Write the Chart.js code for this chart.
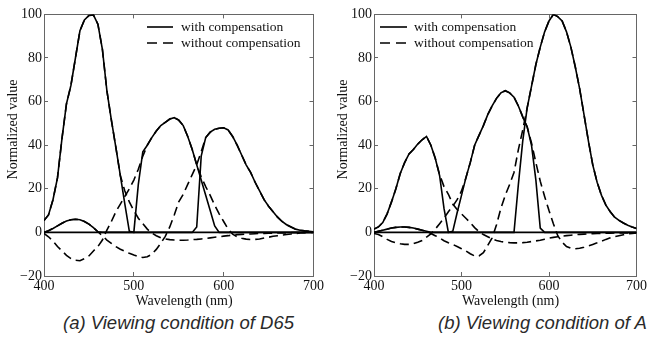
<!DOCTYPE html>
<html lang="en">

<head>
    <meta charset="UTF-8">
    <title>Normalized value vs wavelength</title>
    <script src="https://cdn.jsdelivr.net/npm/chart.js"></script>
    <style>
        body { margin: 0; width: 653px; height: 338px; position: relative; background: #fff; overflow: hidden; }
        .box { position: absolute; top: 0; height: 310px; }
        .legend { position: absolute; font: 13.5px "Liberation Serif", serif; color: #111; }
        .legend .row { height: 16px; line-height: 16px; display: flex; align-items: center; white-space: nowrap; }
        .legend svg { display: block; margin-right: 7px; }
        .caption { position: absolute; top: 312px; font: italic 18.5px "Liberation Sans", Arial, sans-serif; color: #2a2a2a; white-space: nowrap; line-height: 22px; }
    </style>
</head>

<body>
    <div class="box" style="left:0; width:330px;"><canvas id="chartA"></canvas></div>
    <div class="box" style="left:330px; width:323px;"><canvas id="chartB"></canvas></div>

    <div class="legend" style="left:147px; top:19px;">
        <div class="row"><svg width="27" height="16"><line x1="0" y1="8" x2="26" y2="8" stroke="#000" stroke-width="1.6" /></svg><span>with compensation</span></div>
        <div class="row"><svg width="27" height="16"><line x1="0" y1="8" x2="26" y2="8" stroke="#000" stroke-width="1.6" stroke-dasharray="10 6" /></svg><span>without compensation</span></div>
    </div>
    <div class="legend" style="left:380px; top:19px;">
        <div class="row"><svg width="27" height="16"><line x1="0" y1="8" x2="27" y2="8" stroke="#000" stroke-width="1.6" /></svg><span>with compensation</span></div>
        <div class="row"><svg width="27" height="16"><line x1="0" y1="8" x2="27" y2="8" stroke="#000" stroke-width="1.6" stroke-dasharray="10 6" /></svg><span>without compensation</span></div>
    </div>

    <div class="caption" style="left:63px;">(a) Viewing condition of D65</div>
    <div class="caption" style="left:438px;">(b) Viewing condition of A</div>

    <script>
        // wavelength grid (nm)
        const wavelengths = [400, 405, 410, 415, 420, 425, 430, 435, 440, 445,
            450, 455, 460, 465, 470, 475, 480, 485, 490, 495,
            500, 505, 510, 515, 520, 525, 530, 535, 540, 545,
            550, 555, 560, 565, 570, 575, 580, 585, 590, 595,
            600, 605, 610, 615, 620, 625, 630, 635, 640, 645,
            650, 655, 660, 665, 670, 675, 680, 685, 690, 695,
            700];

        // (a) D65
        const blueWithA = [5.5, 8, 15, 25, 43, 59, 67.5, 80, 92.5, 97.5,
            99.5, 99.8, 95.5, 84, 65, 51.5, 39, 26, 13, 0.5,
            0, 0, 0, 0, 0, 0, 0, 0, 0, 0,
            0, 0, 0, 0, 0, 0, 0, 0, 0, 0,
            0, 0, 0, 0, 0, 0, 0, 0, 0, 0,
            0, 0, 0, 0, 0, 0, 0, 0, 0, 0,
            0];
        const blueWithoutA = [5.5, 8, 15, 25, 43, 59, 67.5, 80, 92.5, 97.5,
            99.5, 99.8, 95.5, 84, 65, 51.5, 39, 26, 19, 14,
            10, 6.5, 4, 1.5, -0.3, -1.5, -2.5, -3, -3.3, -3.5,
            -3.6, -3.6, -3.5, -3.3, -3.2, -3, -2.8, -2.5, -2.2, -2,
            -1.7, -1.5, -1.2, -1, -0.9, -0.8, -0.7, -0.6, -0.5, -0.5,
            -0.4, -0.3, -0.3, -0.2, -0.2, -0.1, -0.1, -0.1, 0, 0,
            0];
        const greenWithA = [0, 0, 0, 0, 0, 0, 0, 0, 0, 0,
            0, 0, 0, 0, 0, 0, 0, 0, 0, 0,
            0, 22, 37, 40, 43.5, 46.5, 49, 50.5, 52, 52.6,
            51.5, 49, 44, 38, 31, 24, 17, 10, 3, 0,
            0, 0, 0, 0, 0, 0, 0, 0, 0, 0,
            0, 0, 0, 0, 0, 0, 0, 0, 0, 0,
            0];
        const greenWithoutA = [-0.5, -2, -4, -6.5, -8.5, -10.5, -12, -12.8, -13, -12,
            -10.8, -8.5, -6.5, -3.5, 1, 5, 9.5, 13, 16.5, 20,
            24, 29, 35, 40, 43.5, 46.5, 49, 50.5, 52, 52.6,
            51.5, 49, 44, 38, 31, 25.5, 21, 17, 12.5, 8.5,
            5, 1.5, -0.8, -2, -2.7, -3.1, -3.3, -3.2, -3, -2.6,
            -2.2, -1.8, -1.5, -1.2, -1, -0.7, -0.5, -0.3, -0.2, -0.1,
            0];
        const redWithA = [0, 0.8, 1.8, 3, 4.2, 5.2, 5.8, 6, 5.8, 5,
            3.8, 2.2, 0.3, 0, 0, 0, 0, 0, 0, 0,
            0, 0, 0, 0, 0, 0, 0, 0, 0, 0,
            0, 0, 0, 0, 2.5, 35, 43.5, 46, 47.3, 47.8,
            48, 47, 44, 40, 35.5, 31, 27.5, 23, 19, 15,
            12, 9.5, 7, 5, 3.5, 2.5, 1.5, 1, 0.7, 0.5,
            0.3];
        const redWithoutA = [0, 0.8, 1.8, 3, 4.2, 5.2, 5.8, 6, 5.8, 5,
            3.8, 2.2, 0.3, -1.5, -3.5, -5, -6.5, -7.7, -8.7, -9.6,
            -10.4, -11.1, -11.5, -11.2, -10, -7.8, -5, -1.8, 2.5, 8,
            14, 17.5, 22, 26.5, 31, 37, 43.5, 46, 47.3, 47.8,
            48, 47, 44, 40, 35.5, 31, 27.5, 23, 19, 15,
            12, 9.5, 7, 5, 3.5, 2.5, 1.5, 1, 0.7, 0.5,
            0.3];

        // (b) illuminant A
        const blueWithB = [1.5, 2.5, 4.5, 8.5, 14, 20, 27, 32, 36, 38,
            40.5, 42.5, 44, 40, 34, 26, 11, 0, 0, 0,
            0, 0, 0, 0, 0, 0, 0, 0, 0, 0,
            0, 0, 0, 0, 0, 0, 0, 0, 0, 0,
            0, 0, 0, 0, 0, 0, 0, 0, 0, 0,
            0, 0, 0, 0, 0, 0, 0, 0, 0, 0,
            0];
        const blueWithoutB = [1.5, 2.5, 4.5, 8.5, 14, 20, 27, 32, 36, 38,
            40.5, 42.5, 44, 40, 34, 26.5, 21, 17.5, 13, 10.5,
            8.5, 6.5, 4.5, 2.2, 0.3, -1, -2, -3, -3.7, -4.2,
            -4.5, -4.7, -4.8, -4.8, -4.7, -4.5, -4.2, -3.9, -3.6, -3.1,
            -2.6, -2.3, -2, -1.7, -1.5, -1.3, -1.1, -0.9, -0.8, -0.7,
            -0.6, -0.5, -0.5, -0.4, -0.4, -0.3, -0.3, -0.2, -0.2, -0.2,
            -0.2];
        const greenWithB = [0, 0, 0, 0, 0, 0, 0, 0, 0, 0,
            0, 0, 0, 0, 0, 0, 0, 0, 0.5, 9,
            17, 25, 32, 40, 44.5, 49, 54, 58, 61.5, 64,
            65, 64, 62, 58, 53, 48.5, 40, 24, 2, 0,
            0, 0, 0, 0, 0, 0, 0, 0, 0, 0,
            0, 0, 0, 0, 0, 0, 0, 0, 0, 0,
            0];
        const greenWithoutB = [-0.5, -1, -2, -3.2, -4.2, -4.8, -5.2, -5.5, -5.5, -5.2,
            -4.5, -3.7, -2.2, -0.7, 1.5, 4, 6.5, 9.5, 12, 15,
            19, 25, 32, 40, 44.5, 49, 54, 58, 61.5, 64,
            65, 64, 62, 58, 53, 48.5, 41, 32, 23.5, 16.5,
            10, 4, -1.5, -4.5, -6.5, -7.3, -7.5, -7.3, -6.8, -6.2,
            -5.5, -4.8, -4, -3.2, -2.5, -2, -1.5, -1.1, -0.7, -0.5,
            -0.3];
        const redWithB = [0, 0.5, 1, 1.5, 2, 2.3, 2.5, 2.5, 2.3, 2,
            1.5, 1, 0.5, 0, 0, 0, 0, 0, 0, 0,
            0, 0, 0, 0, 0, 0, 0, 0, 0, 0,
            0, 0, 0, 22, 42, 57, 67, 77, 85, 92,
            97, 100, 99, 97, 92, 85, 76, 66, 54, 42,
            31, 23, 17, 12.5, 9.5, 7, 5.5, 4.3, 3.3, 2.5,
            1.8];
        const redWithoutB = [0, 0.5, 1, 1.5, 2, 2.3, 2.5, 2.5, 2.3, 2,
            1.5, 1, 0.5, -0.5, -1.5, -2.5, -3.8, -4.7, -5.5, -6.5,
            -7.5, -8.5, -9.8, -10.8, -10.8, -9.3, -6, -2.5, 3.5, 11,
            17, 22, 27.5, 38, 47, 57, 67, 77, 85, 92,
            97, 100, 99, 97, 92, 85, 76, 66, 54, 42,
            31, 23, 17, 12.5, 9.5, 7, 5.5, 4.3, 3.3, 2.5,
            1.8];

        const xMin = 400, xMax = 700, xStep = 100;
        const yMin = -20, yMax = 100, yStep = 20;

        const serif = { family: '"Liberation Serif", "Times New Roman", serif', size: 14 };
        const frameColor = '#666';
        const nb = '\u00a0';

        function pts(values) {
            return wavelengths.map((w, i) => ({ x: w, y: values[i] }));
        }

        function line(values, dashed) {
            return {
                data: pts(values),
                borderColor: '#000',
                borderWidth: 1.6,
                borderDash: dashed ? [9, 5] : [],
                pointRadius: 0,
                tension: 0,
                fill: false
            };
        }

        // inward tick marks, frame on all four sides (matplotlib look)
        function axis(pos, extra) {
            const horiz = pos === 'bottom' || pos === 'top';
            return Object.assign({
                type: 'linear',
                position: pos,
                min: horiz ? xMin : yMin,
                max: horiz ? xMax : yMax,
                grid: { drawOnChartArea: false, tickLength: -4, color: frameColor, lineWidth: 1 },
                border: { color: frameColor, width: 1 },
                ticks: {
                    stepSize: horiz ? xStep : yStep,
                    display: false
                }
            }, extra);
        }

        function makeChart(id, sets) {
            return new Chart(document.getElementById(id), {
                type: 'line',
                data: { datasets: sets },
                options: {
                    responsive: true,
                    maintainAspectRatio: false,
                    animation: false,
                    layout: { padding: { top: 10, left: 0, right: 0, bottom: 0 } },
                    plugins: { legend: { display: false }, tooltip: { enabled: false } },
                    scales: {
                        x: axis('bottom', {
                            ticks: { stepSize: xStep, padding: 6, font: serif, color: '#111', maxRotation: 0 },
                            // leading spaces nudge the title right like the original
                            title: { display: true, text: nb.repeat(3) + 'Wavelength (nm)', font: serif, color: '#111', padding: 0 },
                            afterFit: s => { s.height = 34; }
                        }),
                        x2: axis('top', { afterFit: s => { s.height = 0; } }),
                        y: axis('left', {
                            ticks: {
                                stepSize: yStep, padding: 6, font: serif, color: '#111',
                                callback: v => String(v).replace('-', '\u2212')
                            },
                            // leading spaces lift the label above centre like the original
                            title: { display: true, text: nb.repeat(9) + 'Normalized value', font: serif, color: '#111', padding: { top: 4.5 } },
                            afterFit: s => { s.width = 44; }
                        }),
                        y2: axis('right', { afterFit: s => { s.width = 0; } })
                    }
                }
            });
        }

        makeChart('chartA', [
            line(blueWithA, false), line(greenWithA, false), line(redWithA, false),
            line(blueWithoutA, true), line(greenWithoutA, true), line(redWithoutA, true)
        ]);
        makeChart('chartB', [
            line(blueWithB, false), line(greenWithB, false), line(redWithB, false),
            line(blueWithoutB, true), line(greenWithoutB, true), line(redWithoutB, true)
        ]);
    </script>
</body>

</html>
